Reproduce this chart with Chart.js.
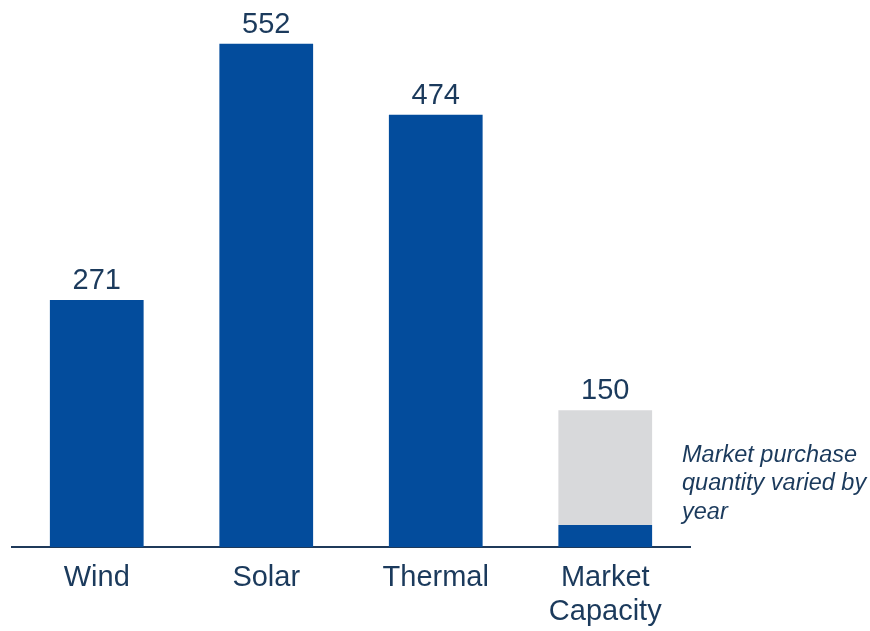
<!DOCTYPE html>
<html>
<head>
<meta charset="utf-8">
<script src="https://cdn.jsdelivr.net/npm/chart.js@4/dist/chart.umd.min.js"></script>
<style>
html,body{margin:0;padding:0;background:#fff;}
canvas{display:block;}
</style>
</head>
<body>
<canvas id="c" width="870" height="631"></canvas>
<script>
const categories = ["Wind", "Solar", "Thermal", ["Market", "Capacity"]];
const committedValues = [271, 552, 474, 24];
const variableValues = [0, 0, 0, 126];
const totalLabels = ["271", "552", "474", "150"];
const noteLines = ["Market purchase", "quantity varied by", "year"];

const TEXT = "#1B3A5C";
const FONT = "'Liberation Sans', Arial, sans-serif";

const labelPlugin = {
  id: "labels",
  afterDatasetsDraw(chart) {
    const ctx = chart.ctx;
    const meta0 = chart.getDatasetMeta(0);
    const meta1 = chart.getDatasetMeta(1);
    ctx.save();
    ctx.fillStyle = TEXT;
    ctx.font = "29px " + FONT;
    ctx.textAlign = "center";
    ctx.textBaseline = "alphabetic";
    totalLabels.forEach((t, i) => {
      const b0 = meta0.data[i], b1 = meta1.data[i];
      const top = variableValues[i] > 0 ? b1.y : b0.y;
      ctx.fillText(t, b0.x, top - 11);
    });
    // note text to the right of the last bar
    const last = meta1.data[3];
    const yTop = last.y;
    ctx.font = "italic 23.5px " + FONT;
    ctx.textAlign = "left";
    ctx.textBaseline = "middle";
    const x = chart.chartArea.right - 8;
    noteLines.forEach((l, k) => {
      ctx.fillText(l, x, yTop + 45 + k * 28.5);
    });
    ctx.restore();
  }
};

new Chart(document.getElementById("c"), {
  type: "bar",
  data: {
    labels: categories,
    datasets: [
      { data: committedValues, backgroundColor: "#034C9C", borderWidth: 0 },
      { data: variableValues, backgroundColor: "#D8D9DB", borderWidth: 0 }
    ]
  },
  options: {
    responsive: false,
    animation: false,
    devicePixelRatio: 1,
    layout: { padding: { left: 12, right: 180, top: 0, bottom: 0 } },
    plugins: { legend: { display: false }, tooltip: { enabled: false } },
    datasets: { bar: { barPercentage: 1, categoryPercentage: 0.553 } },
    scales: {
      x: {
        stacked: true,
        grid: { display: false, drawTicks: false },
        border: { display: true, color: "#1F3A5A", width: 2 },
        ticks: { color: TEXT, font: { family: FONT, size: 29, lineHeight: 1.18 }, padding: 14, maxRotation: 0, autoSkip: false },
        afterFit(scale) { scale.height = 84; }
      },
      y: {
        stacked: true,
        display: false,
        min: 0,
        max: 600
      }
    }
  },
  plugins: [labelPlugin]
});
</script>
</body>
</html>
